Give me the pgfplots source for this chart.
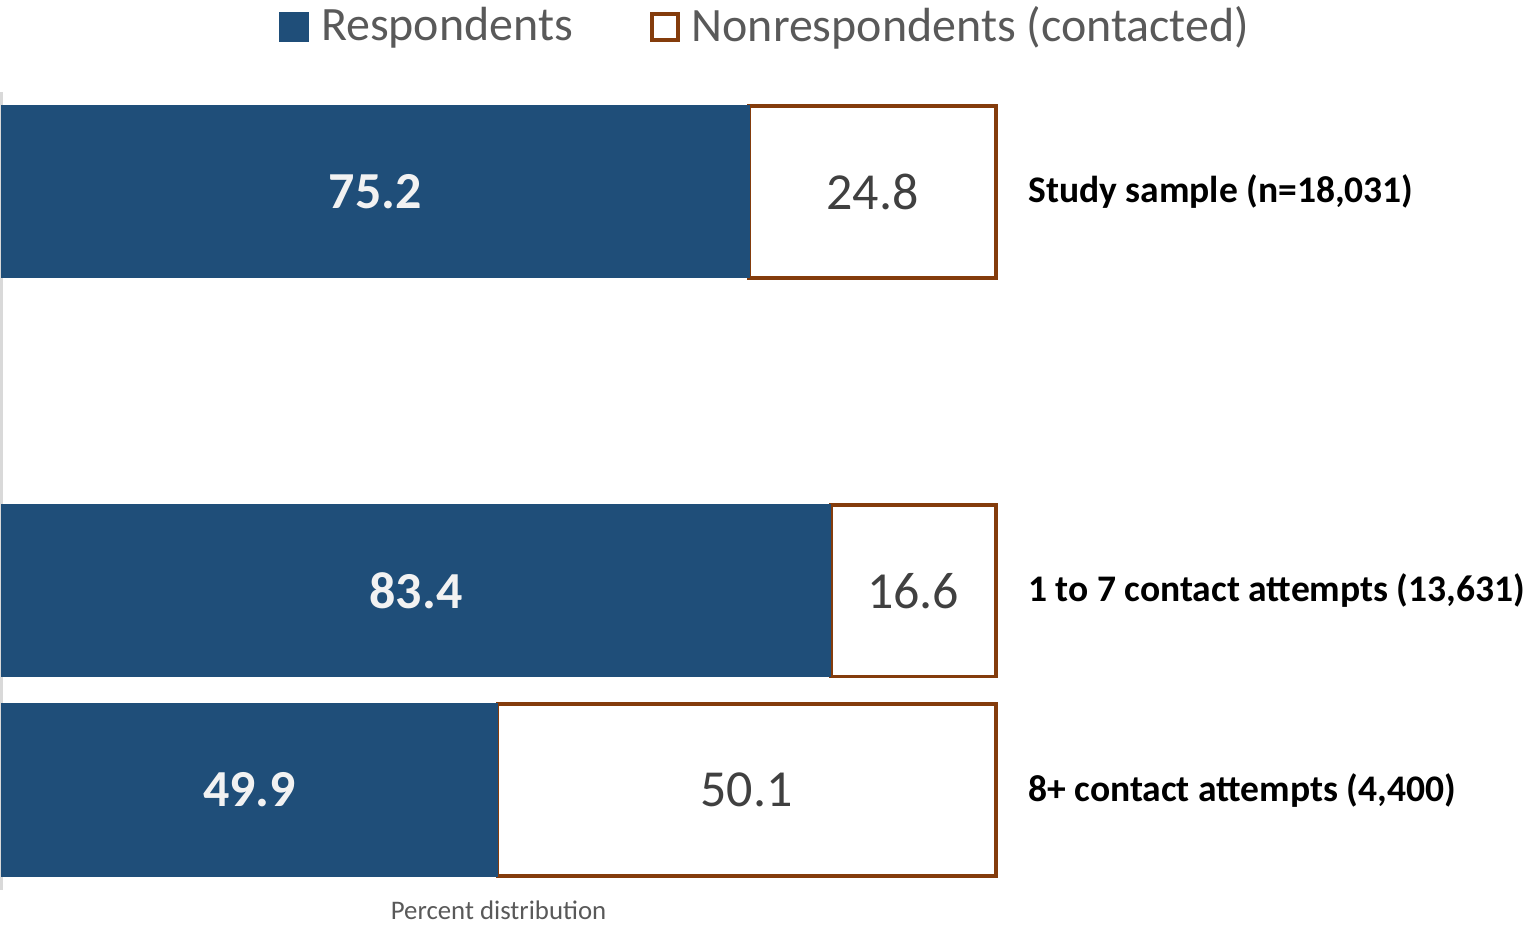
\documentclass[border=0pt]{standalone}
\usepackage{pgfplots}
\pgfplotsset{compat=1.18}
\usepackage{fontspec}
\setmainfont{Carlito}
\definecolor{resp}{HTML}{1F4E79}
\definecolor{nonresp}{HTML}{843C0C}
\definecolor{axgray}{HTML}{D9D9D9}
\definecolor{txtgray}{HTML}{595959}
\definecolor{valgray}{HTML}{404040}

\begin{document}
\begin{tikzpicture}
% bars
\begin{axis}[
  xbar stacked,
  scale only axis,
  width=296.7pt, height=238pt,
  xmin=0, xmax=100, ymin=-0.5, ymax=3.5,
  bar width=51.3pt,
  clip=false,
  axis x line=none,
  axis y line*=left,
  y axis line style={draw=axgray, line width=0.8pt},
  xtick=\empty, ytick=\empty,
  legend style={draw=none, fill=none, inner sep=0pt, at={(0.7705,1)}, anchor=center, yshift=19.5pt,
    font=\fontsize{14.3}{16}\selectfont, text=txtgray,
    /tikz/every odd column/.append style={column sep=1.5pt},
    /tikz/every even column/.append style={column sep=21pt}},
  legend columns=2,
  legend image code/.code={\draw[#1, line width=1.1pt] (0pt,-3.9pt) rectangle (7.8pt,3.9pt);},
]
\addplot[fill=resp, draw=resp] coordinates {(75.2,3) (83.4,1) (49.9,0)};
\addlegendentry{Respondents}
\addplot[fill=white, draw=nonresp, line width=1.1pt] coordinates {(24.8,3) (16.6,1) (50.1,0)};
\addlegendentry{Nonrespondents (contacted)}
\end{axis}
% labels
\begin{axis}[
  scale only axis,
  width=296.7pt, height=238pt,
  xmin=0, xmax=100, ymin=-0.5, ymax=3.5,
  hide axis, clip=false,
]
\addplot[draw=none, nodes near coords, point meta=explicit symbolic,
  every node near coord/.style={anchor=center, text=white!95!black,
    font=\fontsize{15.5}{17}\selectfont\bfseries}]
  coordinates {(37.6,3) [75.2] (41.7,1) [83.4] (24.95,0) [49.9]};
\addplot[draw=none, nodes near coords, point meta=explicit symbolic,
  every node near coord/.style={anchor=center, text=valgray,
    font=\fontsize{15.5}{17}\selectfont}]
  coordinates {(87.6,3) [24.8] (91.7,1) [16.6] (74.95,0) [50.1]};
\tikzset{catlab/.style={anchor=west, inner sep=0pt, xshift=9.5pt, font=\fontsize{11.2}{13}\selectfont\bfseries}}
\node[catlab] at (axis cs:100,3) {Study sample (n=18,031)};
\node[catlab] at (axis cs:100,1) {1 to 7 contact attempts (13,631)};
\node[catlab] at (axis cs:100,0) {8+ contact attempts (4,400)};
\node[anchor=center, yshift=-6pt, text=txtgray, font=\fontsize{8}{10}\selectfont]
  at (axis description cs:0.5,0) {Percent distribution};
\end{axis}
\end{tikzpicture}
\end{document}
